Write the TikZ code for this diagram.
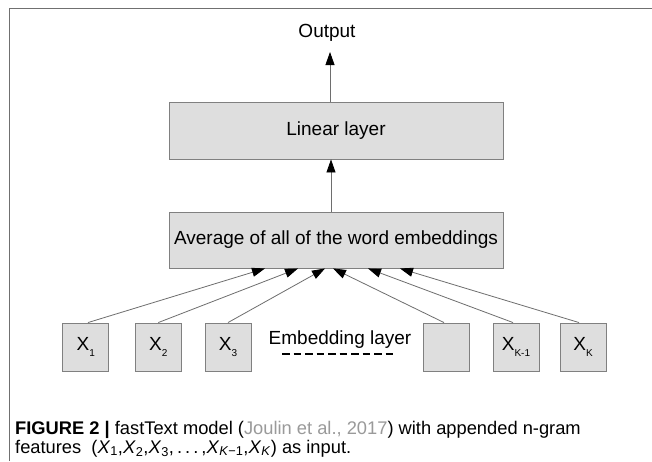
\documentclass[tikz,border=0pt]{standalone}
\usepackage{fontspec}
\setmainfont{Liberation Sans}
\usetikzlibrary{arrows.meta}
\definecolor{boxfill}{HTML}{DEDEDE}
\definecolor{boxline}{HTML}{808080}
\definecolor{connline}{HTML}{6E6E6E}
\definecolor{framecol}{HTML}{707070}
\definecolor{citecol}{HTML}{9A9A9A}
\newcommand{\xsub}[1]{X\raisebox{-5.5pt}{\fontsize{10}{10}\selectfont #1}}
\begin{document}
\begin{tikzpicture}[x=1pt,y=-1pt,
  layerbox/.style={draw=boxline,fill=boxfill,line width=0.9pt,minimum width=334pt,inner sep=0pt,font=\fontsize{19}{22}\selectfont},
  inbox/.style={draw=boxline,fill=boxfill,line width=0.9pt,minimum width=46pt,minimum height=48pt,inner sep=0pt,font=\fontsize{19}{22}\selectfont},
  conn/.style={draw=connline,line width=0.8pt,-{Triangle[length=13pt,width=9pt,fill=black,color=black]}},
  plain/.style={font=\fontsize{19}{22}\selectfont,inner sep=0pt},
  captext/.style={font=\fontsize{18.3}{20}\selectfont,inner sep=0pt,anchor=base west}
]
\useasboundingbox (0,0) rectangle (652,461);
\fill[white] (0,0) rectangle (652,461);
\coordinate (fbl) at (9.3,461);
\coordinate (ftl) at (9.3,8.7);
\coordinate (ftr) at (652,8.7);
\draw[framecol,line width=1.2pt] (fbl) -- (ftl) -- (ftr);

\node[plain] (out) at (327,33) {Output};
\coordinate (outtip) at (330,52);
\node[layerbox,minimum height=57pt] (lin) at (336,130.5) {Linear layer};
\node[layerbox,minimum height=56pt] (avg) at (336,240) {Average of all of the word embeddings};

\node[inbox] (x1) at (85.7,347) {\xsub{1}};
\node[inbox] (x2) at (158.3,347) {\xsub{2}};
\node[inbox] (x3) at (228,347) {\xsub{3}};
\node[inbox] (xe) at (446.3,347) {};
\node[inbox] (xk1) at (516,347) {\xsub{K-1}};
\node[inbox] (xk) at (583,347) {\xsub{K}};

\node[plain] (emb) at (340,340) {Embedding layer};
\coordinate (d1) at (282,354);
\coordinate (d2) at (393,354);
\draw[black,line width=2.3pt,dash pattern=on 7.5pt off 4pt] (d1) -- (d2);

\draw[conn] ([xshift=-6pt]lin.north) -- (outtip);
\draw[conn] ([xshift=-5pt]avg.north) -- ([xshift=-5pt]lin.south);

\draw[conn] ([xshift=2.3pt]x1.north) -- ([xshift=-71pt]avg.south);
\draw[conn] (x2.north) -- ([xshift=-38pt]avg.south);
\draw[conn] (x3.north) -- ([xshift=-11pt]avg.south);
\draw[conn] ([xshift=-2.3pt]xe.north) -- ([xshift=-3pt]avg.south);
\draw[conn] ([xshift=-3pt]xk1.north) -- ([xshift=32pt]avg.south);
\draw[conn] ([xshift=-4pt]xk.north) -- ([xshift=64pt]avg.south);

\node[captext] (cap1) at (15,434) {\textbf{FIGURE 2 |} fastText model (\textcolor{citecol}{Joulin et al., 2017}) with appended n-gram};
\node[captext] (cap2) at (15,453) {features\ \ (\textit{X}\textsubscript{1},\textit{X}\textsubscript{2},\textit{X}\textsubscript{3},\,.\,.\,.\,,\textit{X}\textsubscript{\textit{K}−1},\textit{X}\textsubscript{\textit{K}}) as input.};
\end{tikzpicture}
\end{document}
